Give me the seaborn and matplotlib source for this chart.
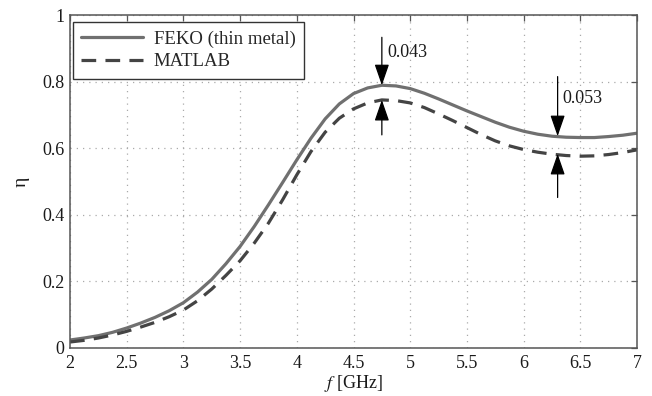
import matplotlib
matplotlib.use("Agg")
import matplotlib.pyplot as plt
import seaborn as sns
import pandas as pd

freq = [2.0, 2.125, 2.25, 2.375, 2.5, 2.625, 2.75, 2.875, 3.0, 3.125, 3.25, 3.375,
        3.5, 3.625, 3.75, 3.875, 4.0, 4.125, 4.25, 4.375, 4.5, 4.625, 4.75, 4.875,
        5.0, 5.125, 5.25, 5.375, 5.5, 5.625, 5.75, 5.875, 6.0, 6.125, 6.25, 6.375,
        6.5, 6.625, 6.75, 6.875, 7.0]
feko = [0.024, 0.030, 0.037, 0.047, 0.060, 0.075, 0.092, 0.112, 0.136, 0.168,
        0.206, 0.253, 0.305, 0.365, 0.430, 0.497, 0.565, 0.630, 0.688, 0.733,
        0.764, 0.781, 0.789, 0.787, 0.779, 0.765, 0.748, 0.730, 0.712, 0.695,
        0.678, 0.663, 0.651, 0.642, 0.636, 0.633, 0.632, 0.632, 0.635, 0.639, 0.645]
matlab = [0.018, 0.023, 0.030, 0.039, 0.050, 0.063, 0.077, 0.094, 0.114, 0.142,
          0.177, 0.218, 0.262, 0.315, 0.375, 0.445, 0.520, 0.590, 0.648, 0.690,
          0.718, 0.736, 0.745, 0.743, 0.736, 0.722, 0.703, 0.683, 0.662, 0.641,
          0.622, 0.607, 0.596, 0.588, 0.582, 0.578, 0.576, 0.577, 0.581, 0.587, 0.595]
xticks = [2, 2.5, 3, 3.5, 4, 4.5, 5, 5.5, 6, 6.5, 7]
yticks = [0, 0.2, 0.4, 0.6, 0.8, 1]
ann_x = [4.75, 6.3]
ann_top = [0.789, 0.636]
ann_bot = [0.745, 0.583]
ann_text = ["0.043", "0.053"]

sns.set_style("white")
plt.rcParams['font.family'] = ['Liberation Serif', 'DejaVu Serif']
plt.rcParams['mathtext.fontset'] = 'stix'

fig = plt.figure(figsize=(6.52, 3.96), dpi=100)
ax = fig.add_axes([70/652, 1-348/396, (637-70)/652, (348-15)/396])

ax.grid(True, color="#aaaaaa", linestyle=(0, (1, 4)), lw=0.9)
ax.set_axisbelow(True)

df = pd.DataFrame({"f": freq, "FEKO": feko, "MATLAB": matlab})
sns.lineplot(data=df, x="f", y="FEKO", ax=ax, color="#707070", lw=2.3,
             label="FEKO (thin metal)")
sns.lineplot(data=df, x="f", y="MATLAB", ax=ax, color="#444444", lw=2.3,
             label="MATLAB")
ax.lines[1].set_linestyle((0, (4.6, 2.9)))

ax.set_xlim(2, 7)
ax.set_ylim(0, 1)
ax.set_xticks(xticks)
ax.set_xticklabels([f"{t:g}" for t in xticks])
ax.set_yticks(yticks)
ax.set_yticklabels([f"{t:g}" for t in yticks])
ax.tick_params(direction="in", top=True, right=True, length=4, width=0.9,
               colors="#555555", labelcolor="#1a1a1a", labelsize=13)
ax.tick_params(axis="y", pad=4)
ax.tick_params(axis="x", pad=5)
for s in ax.spines.values():
    s.set_color("#555555")
    s.set_linewidth(1.1)

ax.set_xlabel("$f$ [GHz]", fontsize=13, labelpad=1, color="#1a1a1a")
ax.set_ylabel("η", fontsize=14, labelpad=9, color="#1a1a1a")

leg = ax.legend(loc="upper left", bbox_to_anchor=(3/567, 1-7/333),
                borderaxespad=0, fontsize=13.5, handlelength=3.3,
                frameon=True, fancybox=False, framealpha=1,
                edgecolor="#333333", borderpad=0.45, labelspacing=0.3,
                handletextpad=0.55)
leg.get_frame().set_linewidth(1.0)

aprops = dict(arrowstyle="-|>,head_length=1.3,head_width=0.45", color="black",
              lw=0.9, shrinkA=0, shrinkB=0)
tops = [0.933, 0.815]
bots = [0.64, 0.452]
for xa, yt, yb, ys, ye in zip(ann_x, ann_top, ann_bot, tops, bots):
    ax.annotate("", xy=(xa, yt), xytext=(xa, ys), arrowprops=aprops)
    ax.annotate("", xy=(xa, yb), xytext=(xa, ye), arrowprops=aprops)
ax.text(4.80, 0.886, ann_text[0], fontsize=13, va="center", ha="left", color="#1a1a1a")
ax.text(6.34, 0.748, ann_text[1], fontsize=13, va="center", ha="left", color="#1a1a1a")

fig.savefig("out.png", dpi=100)
